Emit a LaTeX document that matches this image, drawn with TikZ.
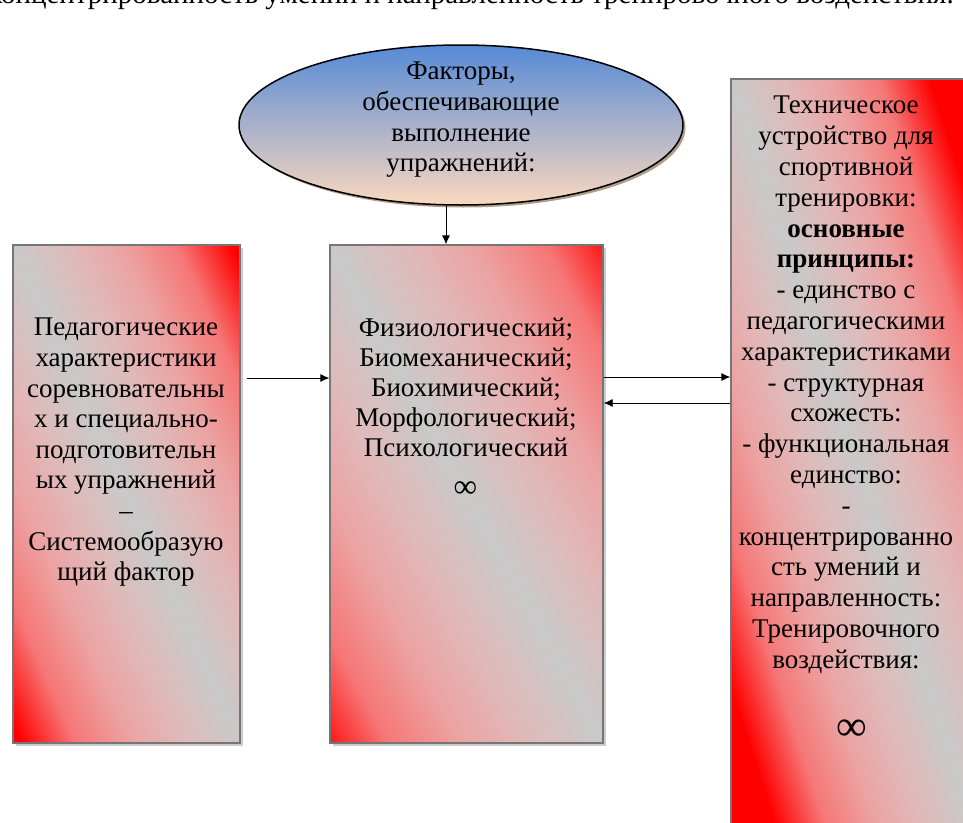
\documentclass[tikz,border=0pt]{standalone}
\usepackage{fontspec}
\setmainfont{Liberation Serif}
\usetikzlibrary{arrows.meta,shapes.geometric,shadows}
\definecolor{boxgrey}{RGB}{201,201,201}
\definecolor{boxedge}{RGB}{118,118,118}
\definecolor{pinkA}{RGB}{224,186,186}
\definecolor{pinkB}{RGB}{236,162,162}
\definecolor{pinkC}{RGB}{246,118,118}
\definecolor{ellblue}{RGB}{86,138,214}
\definecolor{elllav}{RGB}{192,186,210}
\definecolor{ellpeach}{RGB}{250,216,190}
\definecolor{ellshadow}{RGB}{140,115,90}
\pgfdeclarehorizontalshading{redgreyL}{100bp}{color(0bp)=(red); color(18bp)=(red); color(26bp)=(pinkC); color(34bp)=(pinkB); color(42bp)=(pinkA); color(50bp)=(boxgrey); color(58bp)=(pinkA); color(66bp)=(pinkB); color(74bp)=(pinkC); color(82bp)=(red); color(100bp)=(red)}
\pgfdeclarehorizontalshading{redgreyM}{100bp}{color(0bp)=(red); color(14.1bp)=(red); color(23.1bp)=(pinkC); color(32.05bp)=(pinkB); color(41bp)=(pinkA); color(50bp)=(boxgrey); color(59bp)=(pinkA); color(67.95bp)=(pinkB); color(76.9bp)=(pinkC); color(85.9bp)=(red); color(100bp)=(red)}
\pgfdeclarehorizontalshading{redgreyR}{100bp}{color(0bp)=(red); color(25bp)=(red); color(31.25bp)=(pinkC); color(37.5bp)=(pinkB); color(43.75bp)=(pinkA); color(50bp)=(boxgrey); color(56.25bp)=(pinkA); color(62.5bp)=(pinkB); color(68.75bp)=(pinkC); color(75bp)=(red); color(100bp)=(red)}
\tikzset{
  gradbox/.style 2 args={rectangle, draw=boxedge, line width=1.3pt, shading=#1, shading angle=#2,
    drop shadow={shadow xshift=3pt, shadow yshift=-3pt, fill=black!40, opacity=0.5}},
  txt/.style={align=center, inner sep=0pt, font=\fontsize{27}{30.6}\selectfont},
  txtm/.style={align=center, inner sep=0pt, font=\fontsize{27}{30}\selectfont},
  txtr/.style={align=center, inner sep=0pt, font=\fontsize{27}{30.8}\selectfont},
  inf/.style={inner sep=0pt},
  arr/.style={-{Latex[length=9pt,width=8pt]}, line width=0.8pt, black},
}
\begin{document}
\begin{tikzpicture}[x=1pt,y=-1pt]
\useasboundingbox (0,0) rectangle (963,822);
\clip (0,0) rectangle (963,822);
% cut-off line of text at the top
\node[inner sep=0pt, anchor=base east, font=\fontsize{29}{30}\selectfont] (toptext) at (954,3) {концентрированность умений и направленность тренировочного воздействия.};
% ellipse
\node[ellipse, minimum width=444pt, minimum height=160pt, fill=ellshadow, opacity=0.7] (ellsh) at (463.5,127.5) {};
\node[ellipse, draw=black, line width=1.5pt, minimum width=444pt, minimum height=160pt,
  top color=ellblue, middle color=elllav, bottom color=ellpeach] (ell) at (461,125) {};
\node[align=center, inner sep=0pt, font=\fontsize{27}{30.6}\selectfont, anchor=north] (elltext) at (461,62) {Факторы,\\обеспечивающие\\выполнение\\упражнений:};
% boxes
\node[gradbox={redgreyL}{24.5}, minimum width=227pt, minimum height=498pt] (left) at (126.5,494) {};
\node[gradbox={redgreyM}{28.7}, minimum width=273pt, minimum height=498pt] (mid) at (466.5,494) {};
\node[gradbox={redgreyR}{18}, minimum width=250pt, minimum height=770pt] (right) at (856,464) {};
% texts
\node[txt, anchor=north] (lefttext) at (126,318) {Педагогические\\характеристики\\соревновательны\\х и специально-\\подготовительн\\ых упражнений\\–\\Системообразую\\щий фактор};
\node[txtm, anchor=north] (midtext) at (466,317.5) {Физиологический;\\Биомеханический;\\Биохимический;\\Морфологический;\\Психологический};
\node[inf, font=\fontsize{33}{33}\selectfont] (midinf) at (465.5,489.5) {∞};
\node[txtr, anchor=north] (righttext) at (846,96) {Техническое\\устройство для\\спортивной\\тренировки:\\\textbf{основные}\\\textbf{принципы:}\\- единство с\\педагогическими\\характеристиками\\- структурная\\схожесть:\\- функциональная\\единство:\\-\\концентрированно\\сть умений и\\направленность:\\Тренировочного\\воздействия:};
\node[inf, font=\fontsize{43}{43}\selectfont] (rightinf) at (852,730) {∞};
% connectors
\coordinate (a1) at (247,378);
\coordinate (y377) at (0,377);
\coordinate (y403) at (0,403);
\draw[arr] ([xshift=-15pt]ell.south) -- ([xshift=-20.5pt]mid.north);
\draw[arr] (a1) -- (a1 -| mid.west);
\draw[arr] (mid.east |- y377) -- (right.west |- y377);
\draw[arr] (right.west |- y403) -- (mid.east |- y403);
\end{tikzpicture}
\end{document}
